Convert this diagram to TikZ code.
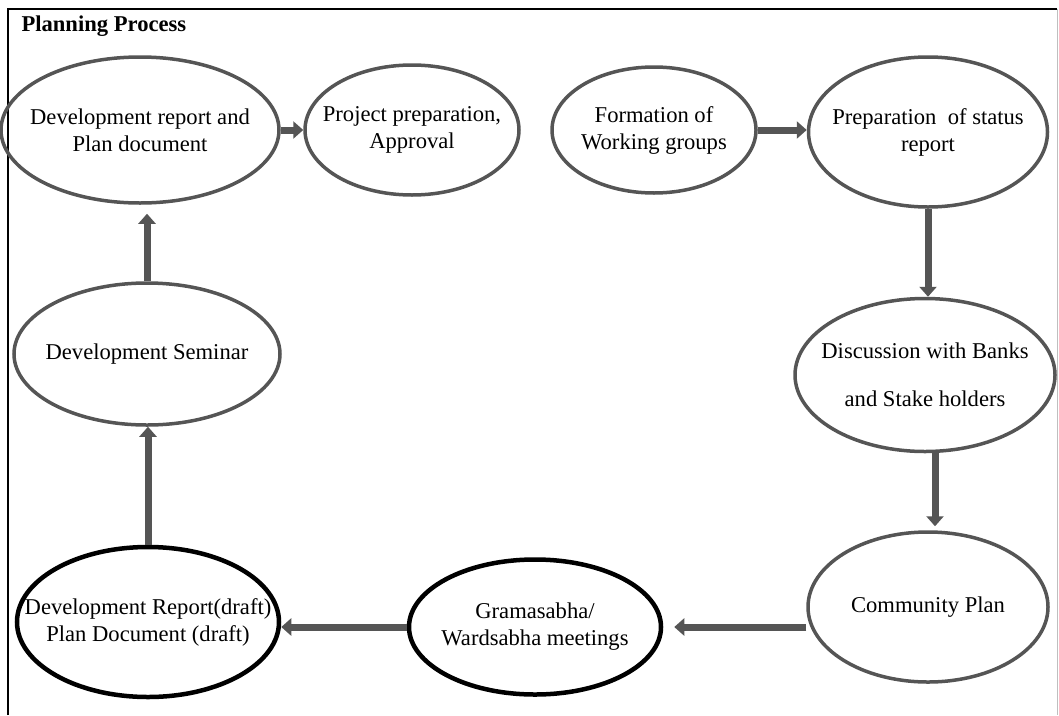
\documentclass[tikz,border=0pt]{standalone}
\usepackage{fontspec}
\setmainfont{Liberation Serif}
\usetikzlibrary{arrows.meta,shapes.geometric}
\definecolor{linegray}{HTML}{555555}

\begin{document}
\begin{tikzpicture}[x=1pt, y=-1pt,
	every node/.style={font=\fontsize{22.6}{27}\selectfont, align=center},
	stage/.style={ellipse, draw=linegray, line width=3.5pt, inner xsep=-80pt, inner ysep=-30pt},
	draftstage/.style={stage, draw=black, line width=4.5pt},
	flow/.style={draw=linegray, line width=7pt, -{Triangle[width=17pt,length=10pt]}}]
	\useasboundingbox (0,0) rectangle (1059,715);
	% frame
	\draw[line width=1.5pt] (8,715) -- (8,9) -- (1057,9);
	\draw[black!25, line width=1pt] (1057,9) -- (1057,715);
	\node[anchor=west, font=\fontsize{22.6}{27}\selectfont\bfseries] (title) at (18,26) {Planning Process};
	% stages
	\node[stage, minimum width=278, minimum height=146] (devrep) at (140,130) {Development report and\\Plan document};
	\node[stage, minimum width=214, minimum height=130] (proj) at (412,130) {Project preparation,\\Approval};
	\node[stage, minimum width=204, minimum height=126] (form) at (654,130) {Formation of\\Working groups};
	\node[stage, minimum width=239, minimum height=150] (prep) at (928,132) {Preparation\ \ of status\\report};
	\node[stage, minimum width=260, minimum height=153, font=\fontsize{22.6}{48}\selectfont] (disc) at (925,375) {Discussion with Banks\\and Stake holders};
	\node[stage, minimum width=240, minimum height=150] (comm) at (928,607) {Community Plan};
	\node[draftstage, minimum width=252, minimum height=135] (gram) at (535,627) {Gramasabha/\\Wardsabha meetings};
	\node[draftstage, minimum width=262, minimum height=150] (draft) at (148,622) {Development Report(draft)\\Plan Document (draft)};
	\node[stage, minimum width=266, minimum height=142] (sem) at (147,354) {Development Seminar};
	% connectors
	\draw[flow] (devrep.east) -- (devrep.east -| proj.west);
	\draw[flow] (form.east) -- (form.east -| prep.west);
	\draw[flow] (prep.south) -- (prep.south |- disc.north);
	\draw[flow, shorten >=4pt] ([xshift=10pt]disc.south) -- ([xshift=10pt]disc.south |- comm.north);
	\draw[flow, shorten >=11pt] (comm.west |- gram.east) -- (gram.east);
	\draw[flow] (gram.west) -- (gram.west -| draft.east);
	\draw[flow] (draft.north) -- (draft.north |- sem.south);
	\draw[flow, shorten >=9pt] (sem.north) -- (sem.north |- devrep.south);
\end{tikzpicture}
\end{document}
